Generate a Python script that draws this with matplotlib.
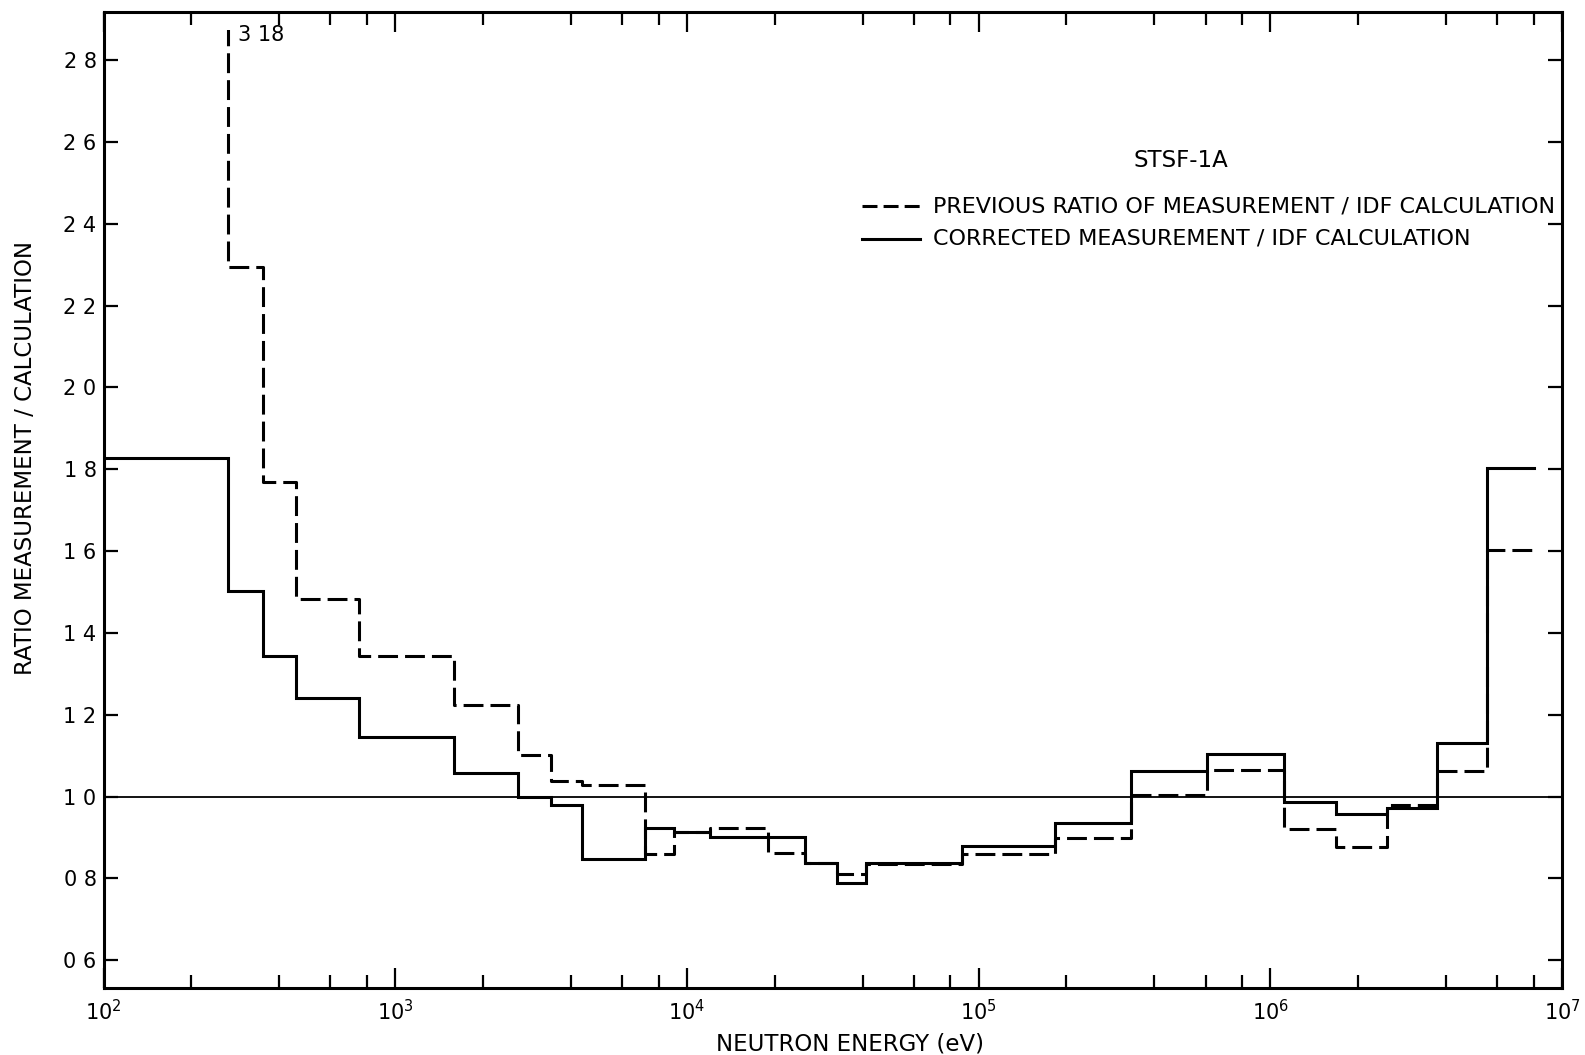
import numpy as np
import matplotlib.pyplot as plt
from matplotlib.patches import Rectangle
from matplotlib.ticker import LogLocator, NullFormatter

# group boundaries (eV) and measured/calculated ratios per group
edges = [100, 268, 351, 457, 752, 1585, 2630, 3422, 4359, 7180, 9040,
         12000, 19000, 25400, 32600, 41000, 87900, 1.83e5, 3.34e5, 6.07e5,
         1.11e6, 1.68e6, 2.51e6, 3.74e6, 5.54e6, 8.0e6]

previous = [3.18, 2.295, 1.770, 1.482, 1.344, 1.224, 1.101, 1.038, 1.028,
            0.859, 0.914, 0.922, 0.861, 0.837, 0.810, 0.835, 0.860, 0.898,
            1.004, 1.065, 0.920, 0.877, 0.979, 1.063, 1.603]

corrected = [1.827, 1.503, 1.344, 1.240, 1.146, 1.057, 0.998, 0.979, 0.846,
             0.922, 0.914, 0.902, 0.902, 0.837, 0.788, 0.837, 0.879, 0.934,
             1.063, 1.104, 0.987, 0.956, 0.971, 1.131, 1.802]

y_ticks = [0.6, 0.8, 1.0, 1.2, 1.4, 1.6, 1.8, 2.0, 2.2, 2.4, 2.6, 2.8]
y_labels = [f"{v:.1f}".replace(".", " ") for v in y_ticks]

off_scale = "3 18"
title = "STSF-1A"
legend_prev = "PREVIOUS RATIO OF MEASUREMENT / IDF CALCULATION"
legend_corr = "CORRECTED MEASUREMENT / IDF CALCULATION"

plt.rcParams['font.family'] = ['DejaVu Sans']

fig = plt.figure(figsize=(15.85, 10.55), dpi=100)
ax = fig.add_axes([0.0653, 0.0632, 0.9202, 0.9254])
ax.set_xscale('log')
ax.set_xlim(1e2, 1e7)
ax.set_ylim(0.531, 2.918)

ax.axhline(1.0, color='black', lw=1.3)

ax.step(edges, corrected + [corrected[-1]], where='post',
        color='black', lw=2.2, solid_joinstyle='miter')
dashed, = ax.step(edges, previous + [previous[-1]], where='post',
                  color='black', lw=2.2, dashes=(6.5, 2.3))
# first group runs off scale: break the line just under the top
clip = Rectangle((edges[0], 0.0), edges[-1] - edges[0], 2.875,
                 transform=ax.transData)
dashed.set_clip_path(clip)
ax.text(290, 2.862, off_scale, ha='left', va='center', fontsize=15)

# legend
ax.plot([0.520, 0.560], [0.801, 0.801], transform=ax.transAxes,
        color='black', lw=2.2, dashes=(4.9, 2.0))
ax.plot([0.520, 0.560], [0.768, 0.768], transform=ax.transAxes,
        color='black', lw=2.2)
ax.text(0.5687, 0.801, legend_prev, transform=ax.transAxes,
        ha='left', va='center', fontsize=16)
ax.text(0.5687, 0.768, legend_corr, transform=ax.transAxes,
        ha='left', va='center', fontsize=16)
ax.text(0.7388, 0.848, title, transform=ax.transAxes,
        ha='center', va='center', fontsize=16.5)

# axes and ticks
ax.xaxis.set_major_locator(LogLocator(base=10, numticks=10))
ax.xaxis.set_minor_locator(LogLocator(base=10, subs=(2, 4, 6, 8), numticks=10))
ax.xaxis.set_minor_formatter(NullFormatter())
ax.tick_params(axis='x', which='major', direction='in', length=14.4,
               width=1.6, top=True, labelsize=15, pad=8)
ax.tick_params(axis='x', which='minor', direction='in', length=9.4,
               width=1.6, top=True)
ax.set_yticks(y_ticks, labels=y_labels)
ax.tick_params(axis='y', which='major', direction='in', length=10,
               width=1.6, right=True, labelsize=15, pad=5)

for s in ax.spines.values():
    s.set_linewidth(2.2)

ax.set_xlabel("NEUTRON ENERGY (eV)", fontsize=16.5)
ax.set_ylabel("RATIO MEASUREMENT / CALCULATION", fontsize=16.5)
ax.xaxis.set_label_coords(0.512, -0.0448)
ax.yaxis.set_label_coords(-0.0456, 0.543)

fig.savefig('out.png', dpi=100)
